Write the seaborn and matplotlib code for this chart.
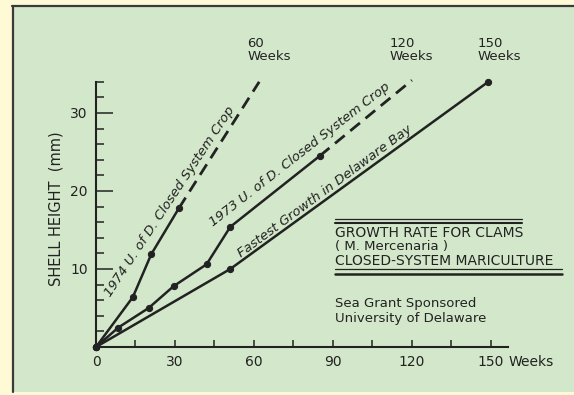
import matplotlib
matplotlib.use('Agg')
import matplotlib.pyplot as plt
import seaborn as sns
from matplotlib.lines import Line2D
from matplotlib.patches import Rectangle
from matplotlib.ticker import MultipleLocator, FixedLocator

# --- data (weeks, shell height in mm) ---
weeks_1974 = [0, 14, 21, 31.5]
mm_1974 = [0, 6.4, 11.9, 17.8]
ext_weeks_1974 = [31.5, 62]
ext_mm_1974 = [17.8, 34.0]

weeks_1973 = [0, 8.5, 20, 29.5, 42, 51, 85]
mm_1973 = [0, 2.5, 5.0, 7.8, 10.6, 15.4, 24.5]
ext_weeks_1973 = [85, 120]
ext_mm_1973 = [24.5, 34.2]

weeks_bay = [0, 51, 149]
mm_bay = [0, 10.0, 34.0]

x_ticks = [0, 30, 60, 90, 120, 150]
y_ticks = [10, 20, 30]
end_labels = ['60\nWeeks', '120\nWeeks', '150\nWeeks']
end_label_weeks = [57.4, 111.7, 145]

INK = '#222222'
GREEN = '#d3e8ca'
YELLOW = '#fffad6'
W, H = 574, 395

sns.set_theme(style='white')
plt.rcParams['font.family'] = ['DejaVu Sans']

fig = plt.figure(figsize=(5.74, 3.95), dpi=100)
fig.patch.set_facecolor(YELLOW)

# green panel with dark left/top edge
fig.patches.append(Rectangle((12 / W, 3 / H), 1, (390 - 3) / H, transform=fig.transFigure,
                             facecolor=GREEN, edgecolor='none', zorder=-5))
fig.lines.append(Line2D([13 / W, 13 / W], [3 / H, 389 / H], transform=fig.transFigure, color='#3a3a3a', lw=1.6, zorder=-4))
fig.lines.append(Line2D([12 / W, 1], [389 / H, 389 / H], transform=fig.transFigure, color='#3a3a3a', lw=1.6, zorder=-4))

ax = fig.add_axes([96 / W, 48 / H, 412 / W, 265.2 / H])
ax.set_facecolor('none')
ax.set_zorder(2)

line_kw = dict(color=INK, linewidth=1.8, marker='o', markersize=4.5, markeredgecolor=INK, clip_on=False)
sns.lineplot(x=weeks_1974, y=mm_1974, ax=ax, sort=False, **line_kw)
sns.lineplot(x=weeks_1973, y=mm_1973, ax=ax, sort=False, **line_kw)
sns.lineplot(x=weeks_bay, y=mm_bay, ax=ax, sort=False, **line_kw)
for xs, ys in [(ext_weeks_1974, ext_mm_1974), (ext_weeks_1973, ext_mm_1973)]:
    sns.lineplot(x=xs, y=ys, ax=ax, sort=False, color=INK, linewidth=2.0, clip_on=False)
    ax.lines[-1].set_dashes([4.5, 2.6])
    ax.lines[-1].set_dash_capstyle('butt')

ax.set_xlim(0, 156.5)
ax.set_ylim(0, 34)
ax.set_xlabel('')
ax.set_ylabel('')
for s in ['top', 'right']:
    ax.spines[s].set_visible(False)
for s in ['left', 'bottom']:
    ax.spines[s].set_color(INK)
    ax.spines[s].set_linewidth(1.5)

ax.xaxis.set_major_locator(FixedLocator(x_ticks))
ax.xaxis.set_minor_locator(FixedLocator([15, 45, 75, 105, 135]))
ax.set_xticklabels([str(v) for v in x_ticks])
ax.yaxis.set_major_locator(FixedLocator(y_ticks))
ax.yaxis.set_minor_locator(MultipleLocator(2))
ax.set_yticklabels([str(v) for v in y_ticks])
ax.tick_params(axis='x', which='both', direction='in', length=5, width=1.1, color=INK,
               labelsize=10, labelcolor=INK, pad=6)
ax.tick_params(axis='y', which='major', direction='in', length=12, width=1.1, color=INK,
               labelsize=10, labelcolor=INK, pad=6)
ax.tick_params(axis='y', which='minor', direction='in', length=6, width=1.1, color=INK)
ax.tick_params(bottom=True, left=True, which='both')

ax.annotate('Weeks', xy=(150, 0), xycoords=('data', 'axes fraction'), xytext=(13, -6),
            textcoords='offset points', ha='left', va='top', fontsize=10, color=INK)

# labels along the curves
lab_kw = dict(ha='center', va='center', rotation_mode='anchor', fontsize=9.5, style='italic', color=INK)
ax.text(28.1, 18.7, '1974 U. of D. Closed System Crop', rotation=56.5, **lab_kw)
ax.text(77.5, 24.7, '1973 U. of D. Closed System Crop', rotation=38, **lab_kw)
ax.text(87, 20.0, 'Fastest Growth in Delaware Bay', rotation=36.5, **lab_kw)

for wk, lab in zip(end_label_weeks, end_labels):
    ax.annotate(lab, xy=(wk, 1), xycoords=('data', 'axes fraction'), xytext=(0, 32),
                textcoords='offset points', ha='left', va='top', fontsize=9.5,
                linespacing=0.95, color=INK)

fig.text(56 / W, 1 - 209 / H, 'SHELL HEIGHT  (mm)', rotation=90, ha='center', va='center',
         fontsize=10.5, color=INK)

# title block
def fy(py):
    return 1 - py / H

tx = 335 / W
fig.text(tx, fy(237), 'GROWTH RATE FOR CLAMS', fontsize=10, color=INK, va='baseline')
fig.text(tx, fy(250), '( M. Mercenaria )', fontsize=9.5, color=INK, va='baseline')
fig.text(tx, fy(265), 'CLOSED-SYSTEM MARICULTURE', fontsize=10, color=INK, va='baseline')
fig.text(tx, fy(307), 'Sea Grant Sponsored', fontsize=9.5, color=INK, va='baseline')
fig.text(tx, fy(322), 'University of Delaware', fontsize=9.5, color=INK, va='baseline')
for py, x1, lw in [(219.5, 522, 0.9), (223, 522, 1.5), (268.5, 562, 0.9), (274, 562, 1.8)]:
    fig.lines.append(Line2D([tx, x1 / W], [fy(py), fy(py)], transform=fig.transFigure, color=INK, lw=lw))

fig.savefig('out.png', dpi=100, facecolor=fig.get_facecolor())
